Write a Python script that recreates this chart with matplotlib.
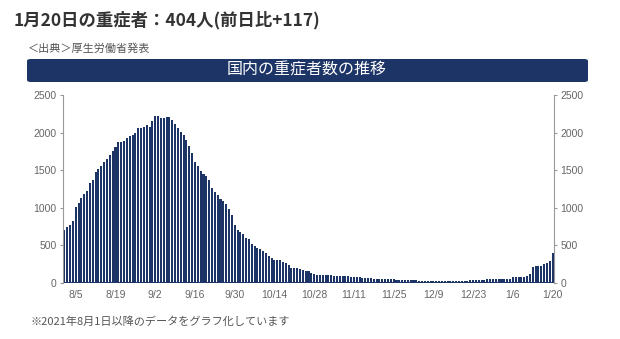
import matplotlib
matplotlib.use("Agg")
import matplotlib.pyplot as plt
from matplotlib.patches import FancyBboxPatch
import pandas as pd

plt.rcParams["font.family"] = ["Noto Sans CJK JP", "DejaVu Sans"]

# daily counts of severe cases, Aug 1 2021 - Jan 20 2022
aug = [700, 745, 770, 820, 1010, 1065, 1130, 1180, 1225, 1325, 1375, 1470, 1515, 1560, 1605, 1645,
       1705, 1760, 1810, 1880, 1880, 1890, 1930, 1960, 1970, 2000, 2055, 2065, 2070, 2100, 2080]
sep = [2150, 2215, 2215, 2200, 2195, 2205, 2205, 2170, 2110, 2055, 2005, 1970, 1895, 1820, 1730,
       1605, 1550, 1490, 1450, 1420, 1370, 1265, 1215, 1170, 1115, 1090, 1045, 985, 900, 766]
oct_ = [702, 684, 645, 600, 585, 512, 487, 470, 456, 430, 399, 359, 337, 310, 301, 301, 279, 261,
        235, 204, 199, 195, 190, 173, 164, 159, 128, 124, 111, 106, 106]
nov = [106, 105, 100, 97, 97, 95, 93, 92, 90, 86, 84, 82, 80, 72, 71, 70, 68, 52, 50, 50, 49, 48,
       48, 47, 47, 44, 43, 42, 41, 40]
dec = [38, 36, 34, 33, 32, 31, 30, 30, 29, 28, 27, 27, 26, 27, 28, 28, 29, 30, 30, 31, 32, 38, 40,
       40, 41, 44, 46, 47, 48, 49, 50]
jan = [51, 52, 53, 55, 58, 75, 75, 75, 75, 84, 97, 120, 208, 221, 221, 230, 252, 270, 287, 404]

counts = aug + sep + oct_ + nov + dec + jan
dates = pd.date_range("2021-08-01", periods=len(counts))

title = "1月20日の重症者：404人(前日比+117)"
source = "＜出典＞厚生労働省発表"
banner = "国内の重症者数の推移"
note = "※2021年8月1日以降のデータをグラフ化しています"

navy = "#1d3466"
gray = "#666666"

fig = plt.figure(figsize=(6.2, 3.39), dpi=100)
ax = fig.add_axes([63 / 620, 1 - 283 / 339, 491 / 620, 188 / 339])

x = list(range(len(counts)))
ax.bar(x, counts, width=0.72, color=navy, linewidth=0)
# thin base strip along the zero line
ax.axhspan(0, 12, color=navy, lw=0)

ax.set_xlim(-0.5, len(counts) - 0.5)
ax.set_ylim(0, 2500)
ax.set_yticks(range(0, 2501, 500))

tick_idx = list(range(4, len(counts), 14))
ax.set_xticks(tick_idx)
ax.set_xticklabels([f"{dates[i].month}/{dates[i].day}" for i in tick_idx])

ax.spines["top"].set_visible(False)
ax.spines["bottom"].set_visible(False)
for side in ["left", "right"]:
    ax.spines[side].set_color("#999999")
    ax.spines[side].set_linewidth(0.8)

ax.tick_params(axis="y", left=True, right=True, labelleft=True, labelright=True,
               length=2.5, width=0.8, color="#999999", labelsize=7.5, labelcolor=gray, pad=2)
ax.tick_params(axis="x", length=0, labelsize=7.5, labelcolor=gray, pad=5)
for lbl in ax.get_xticklabels() + ax.get_yticklabels():
    lbl.set_family(["Liberation Sans", "DejaVu Sans"])

fig.text(14 / 620, 1 - 20 / 339, title, fontsize=12.5, fontweight="bold", color="#333333",
         ha="left", va="center")
fig.text(28 / 620, 1 - 49 / 339, source, fontsize=8, color="#555555", ha="left", va="center")

box = FancyBboxPatch((27 / 620, 1 - 82 / 339), 561 / 620, 23 / 339,
                     boxstyle="round,pad=0,rounding_size=0.006", transform=fig.transFigure,
                     facecolor=navy, edgecolor="none")
fig.patches.append(box)
fig.text(307 / 620, 1 - 70.5 / 339, banner, fontsize=11.5, color="white", ha="center", va="center")

fig.text(30 / 620, 1 - 322 / 339, note, fontsize=8, color="#555555", ha="left", va="center")

fig.savefig("out.png", dpi=100)
